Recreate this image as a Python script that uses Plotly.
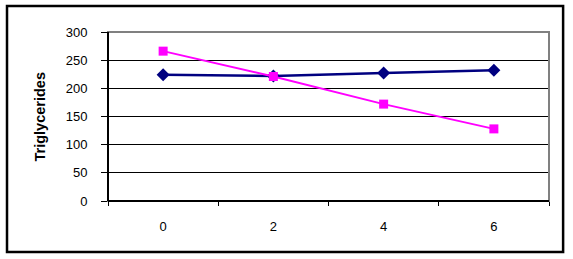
import plotly.graph_objects as go

categories = ["0", "2", "4", "6"]
series_navy = [224, 222, 227, 232]
series_magenta = [266, 221, 172, 128]
y_ticks = [0, 50, 100, 150, 200, 250, 300]
y_title = "Triglycerides"

fig = go.Figure()
fig.add_trace(go.Scatter(
    x=categories, y=series_navy, mode="lines+markers",
    line=dict(color="#000080", width=2.5),
    marker=dict(symbol="diamond", size=10, color="#000080"),
    showlegend=False, cliponaxis=False))
fig.add_trace(go.Scatter(
    x=categories, y=series_magenta, mode="lines+markers",
    line=dict(color="#FF00FF", width=2),
    marker=dict(symbol="square", size=9, color="#FF00FF"),
    showlegend=False, cliponaxis=False))

fig.update_layout(
    width=573, height=259,
    margin=dict(l=108, r=24, t=32, b=58),
    paper_bgcolor="white", plot_bgcolor="white",
    font=dict(family="Liberation Sans, Arial, sans-serif", size=12, color="black"),
    xaxis=dict(type="category", range=[-0.5, 3.5], showgrid=False,
               ticks="outside", tickson="boundaries", ticklen=4, tickcolor="black",
               showline=False, tickfont=dict(size=13), ticklabelstandoff=16,
               zeroline=False),
    yaxis=dict(range=[0, 300], tickvals=y_ticks, showgrid=True, gridcolor="black",
               gridwidth=1, ticks="outside", ticklen=6, tickcolor="black",
               showline=False, zeroline=False,
               tickfont=dict(size=13), ticklabelstandoff=11),
    annotations=[dict(text="<b>" + y_title + "</b>", xref="paper", yref="paper",
                      x=-0.1542, y=0.5, xanchor="center", yanchor="middle",
                      textangle=-90, showarrow=False,
                      font=dict(size=14.5, family="Liberation Sans, Arial, sans-serif"))],
    shapes=[
        dict(type="rect", xref="paper", yref="paper", x0=0, x1=1, y0=0, y1=1,
             line=dict(color="#808080", width=2), layer="above"),
        dict(type="line", xref="paper", yref="paper", x0=0, x1=1, y0=0, y1=0,
             line=dict(color="black", width=2), layer="above"),
        dict(type="line", xref="paper", yref="paper", x0=0, x1=0, y0=0, y1=1,
             line=dict(color="black", width=2), layer="above"),
        dict(type="rect", xref="paper", yref="paper", x0=-0.229, x1=1.032, y0=-0.302, y1=1.154,
             line=dict(color="black", width=2.5), layer="below"),
    ],
)

fig.write_html("out.html")
